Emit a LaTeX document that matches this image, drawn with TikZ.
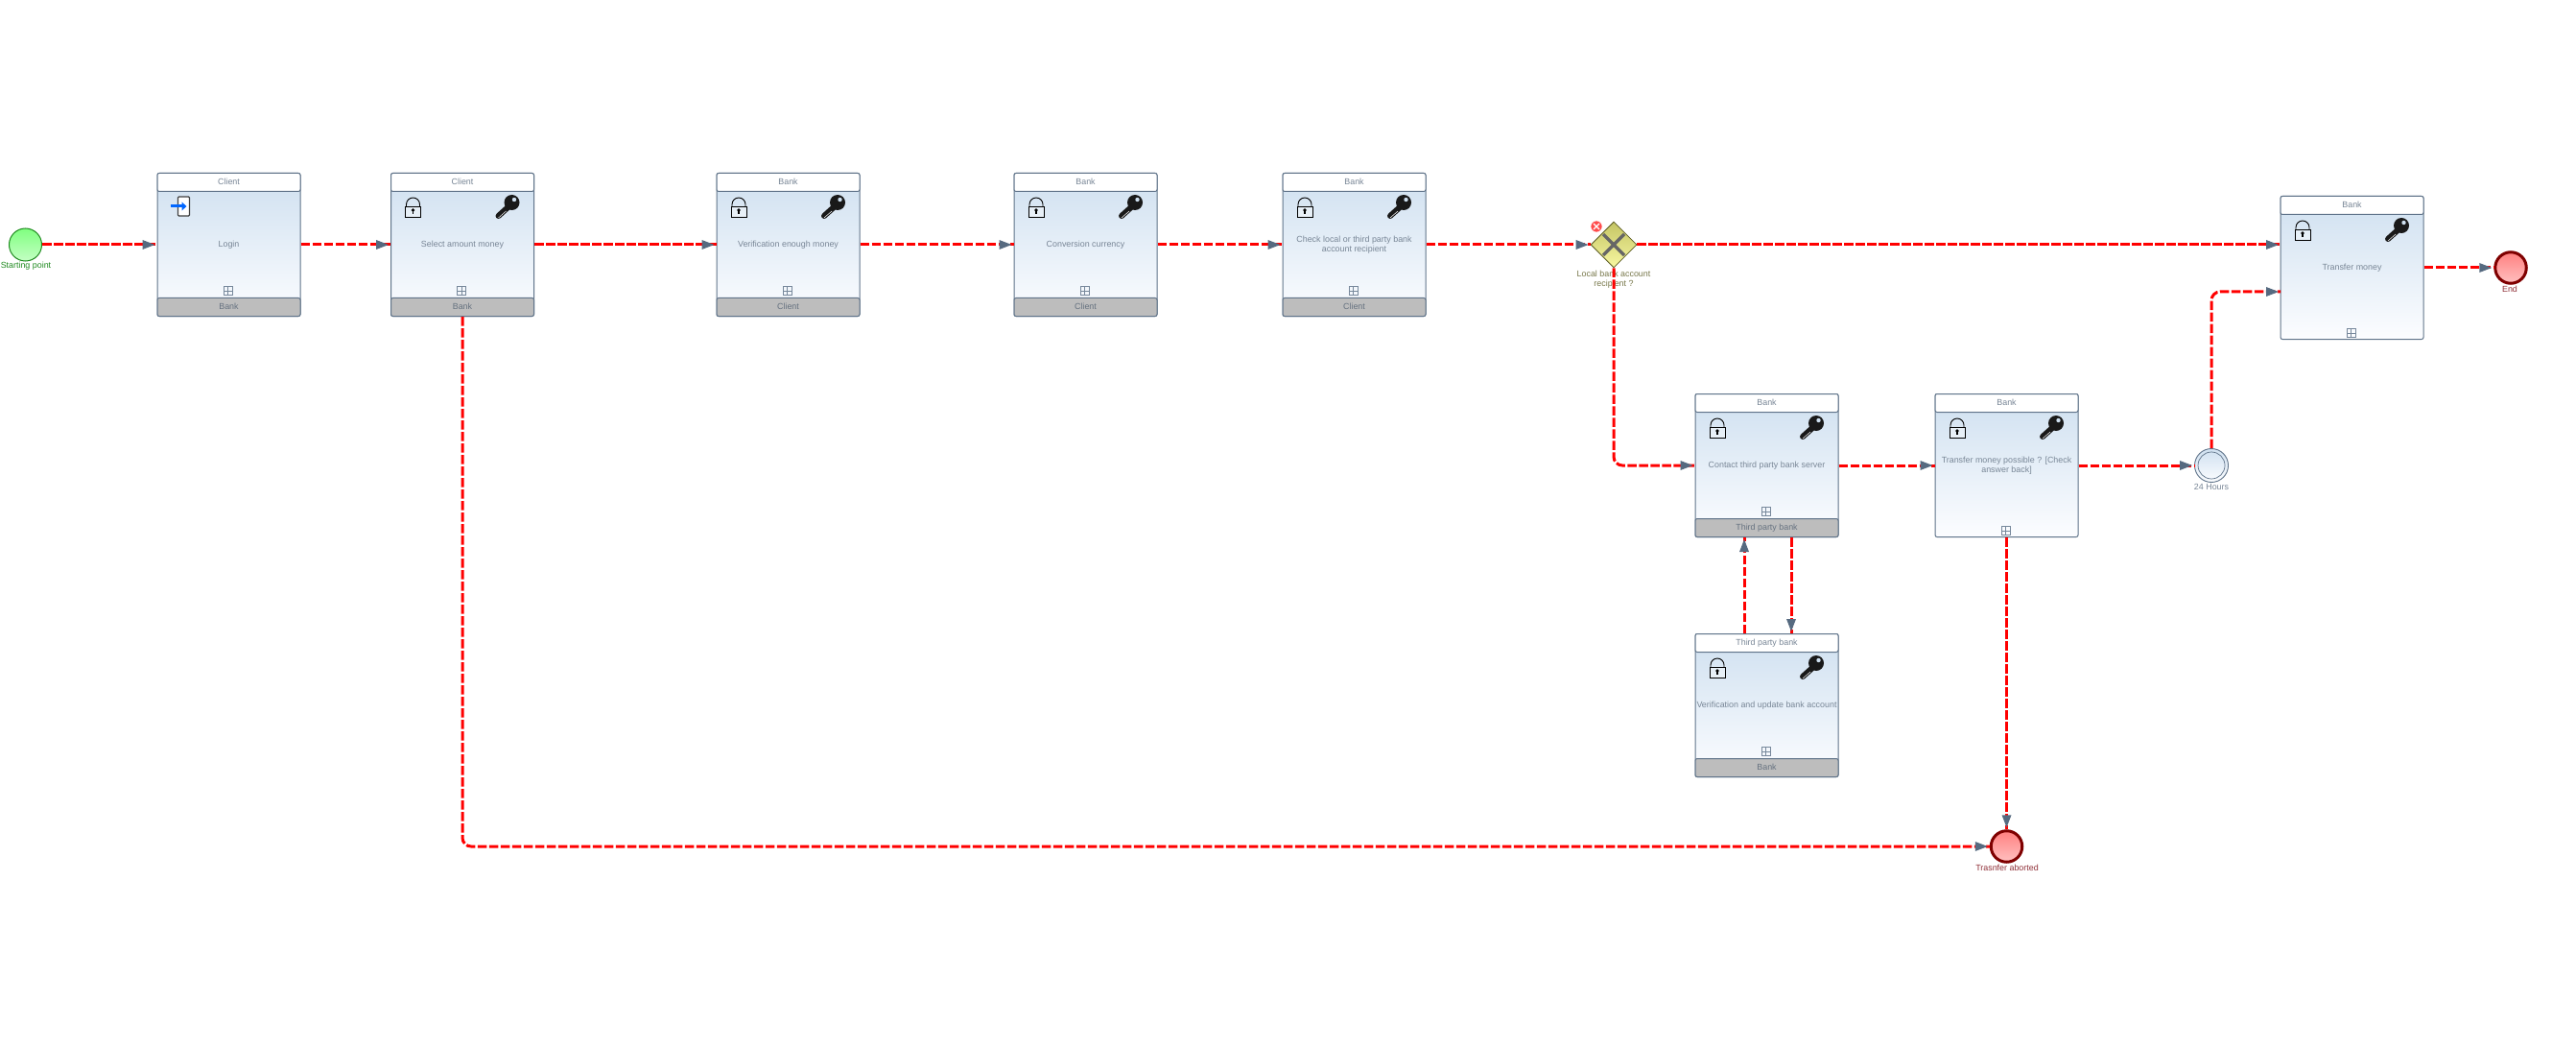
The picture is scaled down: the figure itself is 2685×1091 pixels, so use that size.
\documentclass[tikz,border=0pt]{standalone}
\usepackage{fontspec}
\setmainfont{Liberation Sans}
\usetikzlibrary{shapes.geometric,decorations.markings}

\definecolor{slateline}{HTML}{5F7389}
\definecolor{slatetext}{HTML}{788696}
\definecolor{flowred}{HTML}{FF0000}
\definecolor{tipslate}{HTML}{566A80}
\definecolor{bodytop}{HTML}{CFE0F0}
\definecolor{bodybottom}{HTML}{FCFDFF}
\definecolor{footgrey}{HTML}{BDBDBD}
\definecolor{gatetop}{HTML}{C4C464}
\definecolor{gatebottom}{HTML}{F8F8A2}
\definecolor{gateline}{HTML}{5E5E28}
\definecolor{gatetext}{HTML}{77774A}
\definecolor{starttop}{HTML}{80FF80}
\definecolor{startbottom}{HTML}{C4FFC4}
\definecolor{startline}{HTML}{1F8A1F}
\definecolor{endtop}{HTML}{FF8080}
\definecolor{endbottom}{HTML}{FFC0C0}
\definecolor{endline}{HTML}{7F0000}
\definecolor{endtext}{HTML}{8F3038}

\tikzset{
  smalltext/.style={font=\fontsize{8.9}{10}\selectfont},
  taskbody/.style={draw=slateline,line width=1pt,rounded corners=2pt,
    top color=bodytop,bottom color=bodybottom,minimum size=149pt,inner sep=0pt,
    align=center,text=slatetext,smalltext},
  taskhead/.style={draw=slateline,line width=1pt,rounded corners=2pt,fill=white,
    minimum width=149pt,minimum height=19pt,inner sep=0pt,text=slatetext,smalltext,
    text height=7pt,text depth=2.4pt},
  taskfoot/.style={taskhead,fill=footgrey,text=slatetext!85!black},
  plusbox/.style={draw=slateline!85,line width=0.9pt,minimum size=9pt,inner sep=0pt,
    path picture={\draw[slateline!85,line width=0.9pt]
      (path picture bounding box.north) -- (path picture bounding box.south)
      (path picture bounding box.west) -- (path picture bounding box.east);}},
  startevent/.style={circle,draw=startline,line width=1pt,minimum size=34pt,inner sep=0pt,
    top color=starttop,bottom color=startbottom},
  endevent/.style={circle,draw=endline,line width=3pt,minimum size=32.5pt,inner sep=0pt,
    top color=endtop,bottom color=endbottom},
  timerevent/.style={circle,draw=slateline,line width=0.9pt,minimum size=35pt,inner sep=0pt,
    top color=bodytop,bottom color=bodybottom},
  timerring/.style={circle,draw=slateline,line width=0.7pt,minimum size=28pt,inner sep=0pt},
  gatewaybox/.style={diamond,aspect=1,draw=gateline,line width=0.8pt,
    minimum size=48pt,inner sep=0pt,top color=gatetop,bottom color=gatebottom},
  errormark/.style={circle,fill=red!70!white,draw=white,line width=0.5pt,minimum size=12pt,inner sep=0pt},
  eventlabel/.style={smalltext,align=center,inner sep=0pt},
  flow/.style={draw=flowred,line width=3pt,dash pattern=on 9.5pt off 2.5pt,rounded corners=9pt,
    postaction={decorate},
    decoration={markings,mark=at position 1 with {\fill[tipslate,sharp corners] (-15,-5) -- (-2,0) -- (-15,5) -- cycle;}}},
  lockicon/.pic={
    \draw[black,line width=0.9pt,fill=white,fill opacity=0.35] (-8,-1) rectangle (8,10);
    \draw[black,line width=0.9pt] (-7,-1) -- (-7,-3) arc[start angle=180,end angle=360,radius=7] -- (7,-1);
    \fill[black] (0,3) circle[radius=1.8];
    \fill[black] (-0.8,3) rectangle (0.8,7);
  },
  keyicon/.pic={
    \fill[black!90] (5,-5) circle[radius=8];
    \draw[black!90,line width=6pt,line cap=round] (1,0) -- (-9,9);
    \draw[white,line width=0.5pt] (-1,4) -- (-9,11);
    \fill[bodytop] (7.5,-8) circle[radius=2.2];
  },
  loginicon/.pic={
    \draw[black!75,line width=1.4pt,rounded corners=1pt,fill=white] (-6,-10) rectangle (6,10);
    \draw[blue!60!cyan,line width=3pt] (-14,0) -- (0,0);
    \fill[blue!60!cyan] (-2,-4.5) -- (3,0) -- (-2,4.5) -- cycle;
  },
}

\newcommand{\taskbox}[4]{
  \node[taskbody] (#1) at (#2) {#4};
  \node[taskhead,anchor=north] (#1head) at (#1.north) {#3};
}
\newcommand{\taskfootbar}[2]{
  \node[taskfoot,anchor=south] (#1foot) at (#1.south) {#2};
  \node[plusbox] (#1plus) at ([xshift=-1pt,yshift=27pt]#1.south) {};
}
\newcommand{\taskplus}[1]{
  \node[plusbox] (#1plus) at ([xshift=-1pt,yshift=7pt]#1.south) {};
}
\newcommand{\lockkey}[1]{
  \pic[xshift=23.5pt,yshift=-36pt] at (#1.north west) {lockicon};
  \pic[xshift=121.5pt,yshift=-36pt] at (#1.north west) {keyicon};
}

\begin{document}
\begin{tikzpicture}[x=1pt,y=-1pt]
\useasboundingbox (0,0) rectangle (2685,1091);

\node[startevent] (start) at (26.5,255) {};
\node[eventlabel,text=startline] (startlabel) at (27,277.5)
{Starting point};

\taskbox{login}{238.5,255}{Client}{Login}
\taskfootbar{login}{Bank}
\pic[xshift=28pt,yshift=-35pt] at (login.north west) {loginicon};

\taskbox{select}{482,255}{Client}{Select amount money}
\taskfootbar{select}{Bank}
\lockkey{select}

\taskbox{verify}{821.5,255}{Bank}{Verification enough money}
\taskfootbar{verify}{Client}
\lockkey{verify}

\taskbox{convert}{1131.5,255}{Bank}{Conversion currency}
\taskfootbar{convert}{Client}
\lockkey{convert}

\taskbox{check}{1411.5,255}{Bank}{Check local or third party bank\\account recipient}
\taskfootbar{check}{Client}
\lockkey{check}

\node[eventlabel,text=gatetext] (gatelabel) at (1682,291)
{Local bank account\\recipient ?};
\node[gatewaybox] (gate) at (1682,255) {};
\draw[black!20!gray,line width=3.5pt] (gate.center) ++(-11,-11) -- ++(22,22);
\draw[black!20!gray,line width=3.5pt] (gate.center) ++(11,-11) -- ++(-22,22);
\node[errormark] (gateerror) at (1664,236) {};
\draw[white,line width=1.3pt] (gateerror.center) ++(-3,-3) -- ++(6,6);
\draw[white,line width=1.3pt] (gateerror.center) ++(3,-3) -- ++(-6,6);

\taskbox{contact}{1841.5,485}{Bank}{Contact third party bank server}
\taskfootbar{contact}{Third party bank}
\lockkey{contact}

\taskbox{possible}{2091.5,485}{Bank}{Transfer money possible ? [Check\\answer back]}
\taskplus{possible}
\lockkey{possible}

\taskbox{update}{1841.5,735}{Third party bank}{Verification and update bank account}
\taskfootbar{update}{Bank}
\lockkey{update}

\taskbox{money}{2451.5,279}{Bank}{Transfer money}
\taskplus{money}
\lockkey{money}

\node[timerevent] (timer) at (2305,485) {};
\node[timerring] (timerinner) at (2305,485) {};
\node[eventlabel,text=slatetext] (timerlabel) at (2305,507.5)
{24 Hours};

\node[endevent] (finish) at (2617,279) {};
\node[eventlabel,text=endtext] (finishlabel) at (2616,301.5)
{End};

\node[endevent] (abort) at (2091.5,882) {};
\node[eventlabel,text=endtext] (abortlabel) at (2092,904.5)
{Trasnfer aborted};

\coordinate (moneytop) at (2377,255);
\coordinate (moneylow) at (2377,304);

\draw[flow] (start) to (login);
\draw[flow] (login) to (select);
\draw[flow] (select) to (verify);
\draw[flow] (verify) to (convert);
\draw[flow] (convert) to (check);
\draw[flow] (check) to (gate);
\draw[flow] (gate.east) -- (moneytop);
\draw[flow] (gate.south) |- (contact.west);
\draw[flow] (contact) to (possible);
\draw[flow] (possible) to (timer);
\draw[flow] (timer.north) |- (moneylow);
\draw[flow] (money) to (finish);
\draw[flow] ([xshift=-23.5pt]update.north) -- ([xshift=-23.5pt]contact.south);
\draw[flow] ([xshift=25.5pt]contact.south) -- ([xshift=25.5pt]update.north);
\draw[flow] (possible.south) -- (abort.north);
\draw[flow] (select.south) |- (abort.west);
\end{tikzpicture}
\end{document}
